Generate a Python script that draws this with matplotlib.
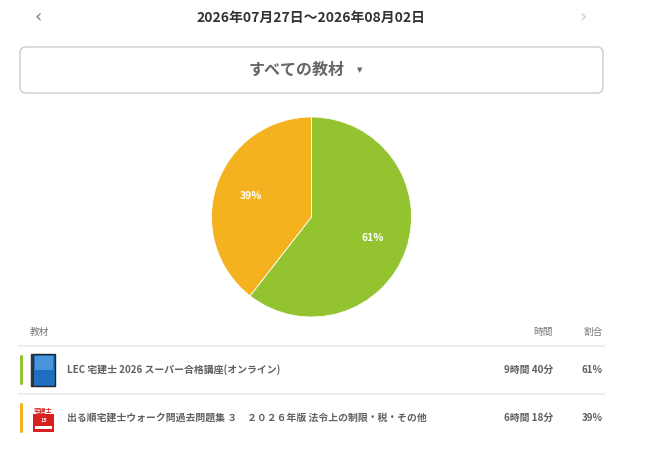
import numpy as np
import matplotlib
matplotlib.use("Agg")
import matplotlib.pyplot as plt
from matplotlib.patches import Rectangle, FancyBboxPatch

plt.rcParams['font.family'] = ['Noto Sans CJK JP', 'DejaVu Sans']

# data
date_range = "2026年07月27日〜2026年08月02日"
filter_label = "すべての教材"
materials = ["LEC 宅建士 2026 スーパー合格講座(オンライン)",
             "出る順宅建士ウォーク問過去問題集 ３　２０２６年版 法令上の制限・税・その他"]
minutes = [580, 378]          # 9時間40分, 6時間18分
time_labels = ["9時間 40分", "6時間 18分"]
colors = ["#93c42f", "#f4b21f"]

shares = np.array(minutes) / sum(minutes)
pct_labels = [f"{round(s * 100)}%" for s in shares]

W, H = 660, 462
fig = plt.figure(figsize=(W / 100, H / 100), dpi=100)
fig.patch.set_facecolor("white")

# full-figure axes in pixel coordinates for the page layout
page = fig.add_axes([0, 0, 1, 1])
page.set_xlim(0, W)
page.set_ylim(H, 0)
page.axis("off")

# header
page.text(38, 17, "‹", ha="center", va="center", fontsize=13, color="#777777",
          family=['DejaVu Sans'])
page.text(583, 17, "›", ha="center", va="center", fontsize=13, color="#cccccc",
          family=['DejaVu Sans'])
page.text(311, 18, date_range, ha="center", va="center", fontsize=10,
          fontweight="bold", color="#333333")

# dropdown box
box = FancyBboxPatch((20, 47), 583, 46, boxstyle="round,pad=0,rounding_size=6",
                     facecolor="white", edgecolor="#cccccc", linewidth=1)
page.add_patch(box)
page.text(297, 70, filter_label, ha="center", va="center", fontsize=11.5,
          fontweight="bold", color="#666666")
page.text(360, 70, "▼", ha="center", va="center", fontsize=5, color="#666666",
          family=['DejaVu Sans'])

# table header
page.text(30, 332, "教材", ha="left", va="center", fontsize=7, color="#777777")
page.text(553, 332, "時間", ha="right", va="center", fontsize=7, color="#777777")
page.text(603, 332, "割合", ha="right", va="center", fontsize=7, color="#777777")

row_y = [370, 418]
sep_y = [346, 394]
for i, name in enumerate(materials):
    y = row_y[i]
    page.plot([19, 604], [sep_y[i], sep_y[i]], color="#eeeeee", linewidth=1.5)
    page.add_patch(FancyBboxPatch((20, y - 15), 3, 30,
                                  boxstyle="round,pad=0,rounding_size=1.5",
                                  facecolor=colors[i], edgecolor="none"))
    page.text(67, y, name, ha="left", va="center", fontsize=7.1,
              fontweight="bold", color="#606060")
    page.text(553, y, time_labels[i], ha="right", va="center", fontsize=7.1,
              fontweight="bold", color="#606060")
    page.text(603, y, pct_labels[i], ha="right", va="center", fontsize=7.1,
              fontweight="bold", color="#606060")

# icon 1: blue book
page.add_patch(Rectangle((31, 354), 24, 32, facecolor="#1e6fc0", edgecolor="#222222",
                         linewidth=1))
page.add_patch(Rectangle((31, 354), 3, 32, facecolor="#333333", edgecolor="none"))
page.add_patch(Rectangle((35, 356), 18, 14, facecolor="#5aa6e8", edgecolor="none",
                         alpha=0.7))

# icon 2: red book cover
page.add_patch(Rectangle((33, 403), 21, 29, facecolor="#d8201f", edgecolor="none"))
page.add_patch(Rectangle((33, 403), 21, 11, facecolor="white", edgecolor="none"))
page.text(43.5, 410, "宅建士", ha="center", va="center", fontsize=4.5,
          fontweight="bold", color="#d8201f")
page.add_patch(Rectangle((35, 426), 17, 3, facecolor="white", edgecolor="none"))
page.text(43.5, 420, "15", ha="center", va="center", fontsize=4, color="white",
          fontweight="bold")

# pie chart
cx, cy, r = 311.5, 217, 100
pie_ax = fig.add_axes([(cx - r) / W, (H - cy - r) / H, 2 * r / W, 2 * r / H])
wedges, texts = pie_ax.pie(shares, colors=colors, startangle=90, counterclock=False,
                           radius=1, wedgeprops=dict(edgecolor="white", linewidth=0.6))
for w, lab in zip(wedges, pct_labels):
    ang = np.deg2rad((w.theta1 + w.theta2) / 2)
    pie_ax.text(0.645 * np.cos(ang), 0.645 * np.sin(ang), lab, ha="center", va="center",
                fontsize=7.5, fontweight="bold", color="white")
pie_ax.set_xlim(-1, 1)
pie_ax.set_ylim(-1, 1)
pie_ax.set_aspect("equal")
pie_ax.axis("off")

fig.savefig("out.png", dpi=100, facecolor="white")
